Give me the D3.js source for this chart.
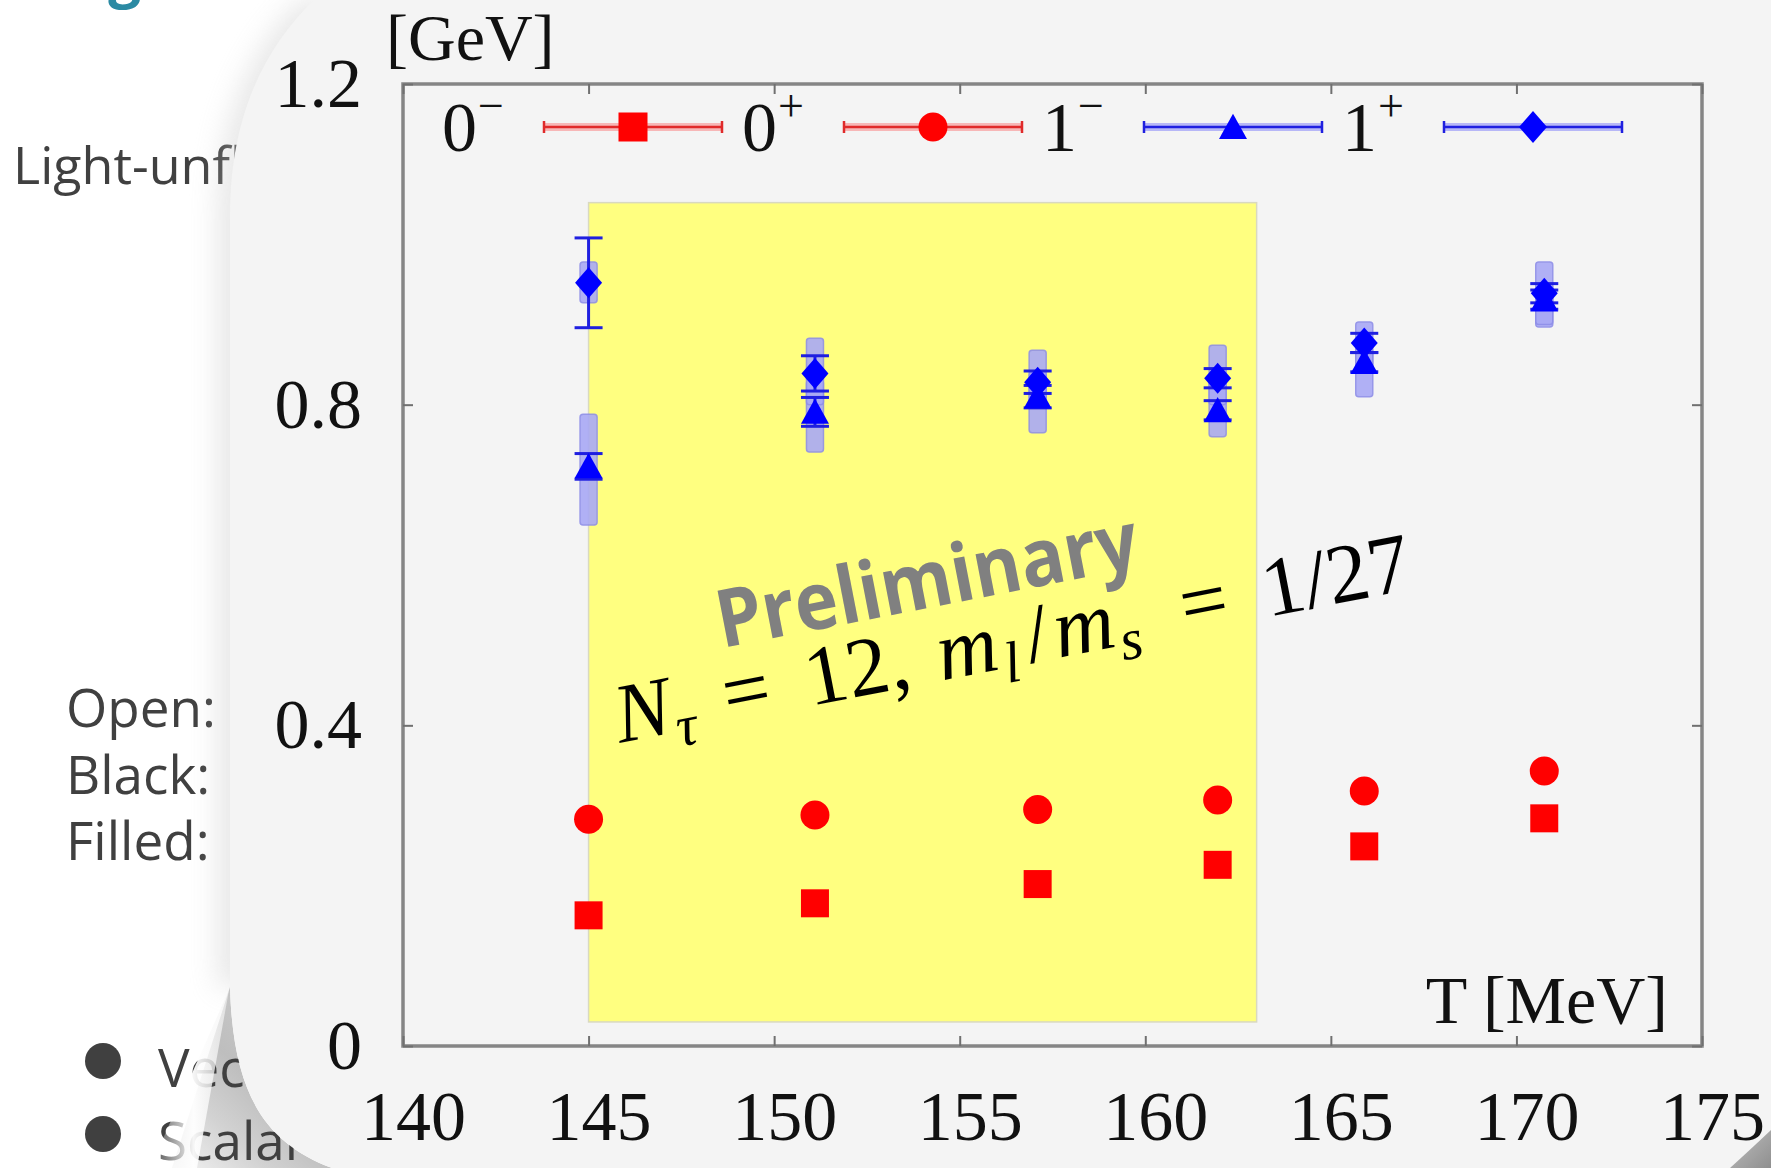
<!DOCTYPE html>
<html>
<head>
<meta charset="utf-8">
<script src="https://cdn.jsdelivr.net/npm/d3@7"></script>
<style>
body { margin: 0; background: #fff; }
svg { display: block; }
</style>
</head>
<body>
<svg width="1771" height="1168"></svg>
<script>
const temps = [145.0, 151.1, 157.1, 161.95, 165.9, 170.75];

const mass0m = [0.163, 0.178, 0.202, 0.226, 0.249, 0.284];
const mass0p = [0.283, 0.288, 0.295, 0.307, 0.318, 0.343];

const mass1m = [0.723, 0.791, 0.810, 0.793, 0.853, 0.931];
const err1m = [0.016, 0.018, 0.014, 0.012, 0.012, 0.012];
const sysLo1m = [0.650, 0.741, 0.765, 0.760, 0.810, 0.897];
const sysHi1m = [0.788, 0.830, 0.840, 0.830, 0.870, 0.950];

const mass1p = [0.952, 0.839, 0.828, 0.833, 0.877, 0.939];
const err1p = [0.056, 0.022, 0.014, 0.012, 0.012, 0.012];
const sysLo1p = [0.927, 0.800, 0.800, 0.800, 0.840, 0.900];
const sysHi1p = [0.978, 0.883, 0.868, 0.874, 0.903, 0.978];

const xTicks = [140, 145, 150, 155, 160, 165, 170, 175];
const yTicks = [0, 0.4, 0.8, 1.2];
const yTickLabels = ["0", "0.4", "0.8", "1.2"];

const legendBase = ["0", "0", "1", "1"];
const legendSup = ["\u2212", "+", "\u2212", "+"];
const legendColors = ["#ff0000", "#ff0000", "#0000ff", "#0000ff"];

const highlightT = [145, 163];
const highlightM = [0.030, 1.052];

const bulletTexts = ["Vector mesons", "Scalar mesons"];
const sideTexts = ["Open:", "Black:", "Filled:"];

const serif = "'Liberation Serif', 'Times New Roman', serif";
const sans = "'Open Sans', 'Noto Sans', sans-serif";

const svg = d3.select("svg");
const defs = svg.append("defs");

const x = d3.scaleLinear().domain([140, 175]).range([403, 1702]);
const y = d3.scaleLinear().domain([0, 1.2]).range([1046, 84]);

// marker shapes
const shapeSquare = { draw(ctx, r) { ctx.rect(-r, -r, 2 * r, 2 * r); } };
const shapeCircle = { draw(ctx, r) { ctx.moveTo(r, 0); ctx.arc(0, 0, r, 0, 2 * Math.PI); } };
const shapeTriangle = { draw(ctx, r) { ctx.moveTo(0, -r * 0.95); ctx.lineTo(r, r * 0.85); ctx.lineTo(-r, r * 0.85); ctx.closePath(); } };
const shapeDiamond = { draw(ctx, r) { ctx.moveTo(0, -r * 1.15); ctx.lineTo(r, 0); ctx.lineTo(0, r * 1.15); ctx.lineTo(-r, 0); ctx.closePath(); } };
const legendShapes = [shapeSquare, shapeCircle, shapeTriangle, shapeDiamond];

// ---------- slide behind ----------
svg.append("rect").attr("width", 1771).attr("height", 1168).attr("fill", "#ffffff");

svg.append("text")
    .attr("x", 141).attr("y", -4)
    .attr("text-anchor", "end")
    .attr("font-family", sans).attr("font-weight", 700).attr("font-size", 58)
    .attr("fill", "#2b8aa3")
    .text("Screening");

const flapGrad = defs.append("linearGradient").attr("id", "flapGrad")
    .attr("gradientUnits", "userSpaceOnUse")
    .attr("x1", 176).attr("y1", 1168).attr("x2", 300).attr("y2", 1040);
flapGrad.append("stop").attr("offset", "0%").attr("stop-color", "#f2f2f2");
flapGrad.append("stop").attr("offset", "35%").attr("stop-color", "#d2d2d2");
flapGrad.append("stop").attr("offset", "65%").attr("stop-color", "#bebebe");
flapGrad.append("stop").attr("offset", "100%").attr("stop-color", "#c8c8c8");

svg.append("path")
    .attr("d", "M230,987 C233,1090 262,1142 332,1168 L172,1168 Z")
    .attr("fill", "url(#flapGrad)");

svg.append("text")
    .attr("x", 13).attr("y", 184)
    .attr("font-family", sans).attr("font-size", 52).attr("fill", "#404040")
    .text("Light-unflavored mesons");

svg.selectAll(".side")
    .data(sideTexts)
    .enter().append("text")
    .attr("class", "side")
    .attr("x", 66)
    .attr("y", (d, i) => 727 + i * 66.5)
    .attr("font-family", sans).attr("font-size", 53).attr("fill", "#404040")
    .text(d => d);

svg.selectAll(".bullet")
    .data(bulletTexts)
    .enter().append("circle")
    .attr("class", "bullet")
    .attr("cx", 103)
    .attr("cy", (d, i) => 1061 + i * 73)
    .attr("r", 18)
    .attr("fill", "#404040");

svg.selectAll(".btext")
    .data(bulletTexts)
    .enter().append("text")
    .attr("class", "btext")
    .attr("x", 158)
    .attr("y", (d, i) => 1087 + i * 73)
    .attr("font-family", sans).attr("font-size", 53).attr("fill", "#404040")
    .text(d => d);

// light band on the curl's edge
const bandGrad = defs.append("linearGradient").attr("id", "bandGrad")
    .attr("x1", 0).attr("x2", 1).attr("y1", 0).attr("y2", 0);
bandGrad.append("stop").attr("offset", "0%").attr("stop-color", "#ffffff").attr("stop-opacity", 0);
bandGrad.append("stop").attr("offset", "55%").attr("stop-color", "#ffffff").attr("stop-opacity", 0.95);
bandGrad.append("stop").attr("offset", "100%").attr("stop-color", "#f4f4f4").attr("stop-opacity", 0.6);

svg.append("path")
    .attr("d", "M229,990 L197,1168 L150,1168 Z")
    .attr("fill", "url(#bandGrad)");

// ---------- curled page ----------
const cornerGrad = defs.append("linearGradient").attr("id", "cornerGrad")
    .attr("x1", 1).attr("x2", 0).attr("y1", 1).attr("y2", 0);
cornerGrad.append("stop").attr("offset", "0%").attr("stop-color", "#8f8f8f");
cornerGrad.append("stop").attr("offset", "100%").attr("stop-color", "#d6d6d6");

svg.append("path")
    .attr("d", "M1771,1110 L1771,1168 L1712,1168 Z")
    .attr("fill", "url(#cornerGrad)");

const blur = defs.append("filter").attr("id", "pageShadow")
    .attr("x", "-50%").attr("y", "-10%").attr("width", "200%").attr("height", "120%");
blur.append("feGaussianBlur").attr("stdDeviation", 14);

svg.append("path")
    .attr("d", "M314,0 C262,50 230,120 230,215 L230,987 L420,987 L420,0 Z")
    .attr("transform", "translate(-12,0)")
    .attr("fill", "#c4c4c4")
    .attr("opacity", 0.4)
    .attr("filter", "url(#pageShadow)");

svg.append("path")
    .attr("d", "M314,0 L1771,0 L1771,1130 Q1752,1148 1730,1168 L332,1168 " +
        "C262,1142 233,1090 230,987 L230,215 C230,120 262,50 314,0 Z")
    .attr("fill", "#f4f4f4");

// ---------- chart ----------
const chart = svg.append("g");

chart.append("rect")
    .attr("x", x(highlightT[0]))
    .attr("y", y(highlightM[1]))
    .attr("width", x(highlightT[1]) - x(highlightT[0]))
    .attr("height", y(highlightM[0]) - y(highlightM[1]))
    .attr("fill", "#ffff80")
    .attr("stroke", "#d9d9c0")
    .attr("stroke-width", 1.5);

const vectorSets = [
    { vals: mass1m, err: err1m, lo: sysLo1m, hi: sysHi1m, shape: shapeTriangle, r: 14 },
    { vals: mass1p, err: err1p, lo: sysLo1p, hi: sysHi1p, shape: shapeDiamond, r: 13.5 }
];

vectorSets.forEach(s => {
    chart.selectAll(null)
        .data(temps)
        .enter().append("rect")
        .attr("x", d => x(d) - 8.5)
        .attr("y", (d, i) => y(s.hi[i]))
        .attr("width", 17)
        .attr("height", (d, i) => y(s.lo[i]) - y(s.hi[i]))
        .attr("rx", 3)
        .attr("fill", "#a9a9f6")
        .attr("stroke", "#8e8ee8")
        .attr("stroke-width", 1.5)
        .attr("opacity", 0.9);
});

vectorSets.forEach(s => {
    const bars = chart.selectAll(null)
        .data(temps)
        .enter().append("g")
        .attr("stroke", "#1f1fe0")
        .attr("stroke-width", 3);
    bars.append("line")
        .attr("x1", d => x(d)).attr("x2", d => x(d))
        .attr("y1", (d, i) => y(s.vals[i] - s.err[i]))
        .attr("y2", (d, i) => y(s.vals[i] + s.err[i]));
    bars.append("line")
        .attr("x1", d => x(d) - 14).attr("x2", d => x(d) + 14)
        .attr("y1", (d, i) => y(s.vals[i] - s.err[i]))
        .attr("y2", (d, i) => y(s.vals[i] - s.err[i]));
    bars.append("line")
        .attr("x1", d => x(d) - 14).attr("x2", d => x(d) + 14)
        .attr("y1", (d, i) => y(s.vals[i] + s.err[i]))
        .attr("y2", (d, i) => y(s.vals[i] + s.err[i]));
});

vectorSets.forEach(s => {
    chart.selectAll(null)
        .data(temps)
        .enter().append("path")
        .attr("d", d3.symbol().type(s.shape).size(s.r))
        .attr("transform", (d, i) => `translate(${x(d)},${y(s.vals[i])})`)
        .attr("fill", "#0000ff");
});

chart.selectAll(null)
    .data(temps)
    .enter().append("path")
    .attr("d", d3.symbol().type(shapeSquare).size(14))
    .attr("transform", (d, i) => `translate(${x(d)},${y(mass0m[i])})`)
    .attr("fill", "#ff0000");

chart.selectAll(null)
    .data(temps)
    .enter().append("path")
    .attr("d", d3.symbol().type(shapeCircle).size(14.5))
    .attr("transform", (d, i) => `translate(${x(d)},${y(mass0p[i])})`)
    .attr("fill", "#ff0000");

// watermark and parameters
chart.append("text")
    .attr("transform", "translate(722,648) rotate(-11)")
    .attr("font-family", sans).attr("font-weight", 700).attr("font-size", 80)
    .attr("fill", "#808080")
    .attr("textLength", 428).attr("lengthAdjust", "spacingAndGlyphs")
    .text("Preliminary");

const formula = chart.append("text")
    .attr("transform", "translate(620,743) rotate(-11)")
    .attr("font-family", serif).attr("font-size", 84)
    .attr("fill", "#000");
const formulaParts = [
    { t: "N", at: 0, sub: false, it: true },
    { t: "\u03c4", at: 58, sub: true, it: true },
    { t: "=", at: 110, sub: false, it: false },
    { t: "12,", at: 194, sub: false, it: false },
    { t: "m", at: 328, sub: false, it: true },
    { t: "l", at: 392, sub: true, it: true },
    { t: "/", at: 418, sub: false, it: false },
    { t: "m", at: 447, sub: false, it: true },
    { t: "s", at: 510, sub: true, it: true },
    { t: "=", at: 576, sub: false, it: false },
    { t: "1/27", at: 660, sub: false, it: false }
];
formula.selectAll("tspan")
    .data(formulaParts)
    .enter().append("tspan")
    .attr("x", d => d.at)
    .attr("y", d => d.sub ? 15 : 0)
    .attr("font-size", d => d.sub ? 58 : 84)
    .attr("font-style", d => d.it ? "italic" : "normal")
    .text(d => d.t);

// frame and axes
chart.append("rect")
    .attr("x", x(140)).attr("y", y(1.2))
    .attr("width", x(175) - x(140)).attr("height", y(0) - y(1.2))
    .attr("fill", "none")
    .attr("stroke", "#858585")
    .attr("stroke-width", 3.5);

const styleAxis = g => {
    g.select(".domain").remove();
    g.selectAll(".tick line").attr("stroke", "#707070").attr("stroke-width", 2);
    g.selectAll(".tick text")
        .attr("font-family", serif).attr("font-size", 70).attr("fill", "#111");
};

chart.append("g")
    .attr("transform", `translate(0,${y(0)})`)
    .call(d3.axisBottom(x).tickValues(xTicks).tickFormat(d3.format("d"))
        .tickSize(-10).tickSizeOuter(0).tickPadding(44))
    .call(styleAxis)
    .call(g => g.selectAll(".tick text").attr("dx", 10));

chart.append("g")
    .attr("transform", `translate(0,${y(1.2)})`)
    .call(d3.axisTop(x).tickValues(xTicks).tickFormat("").tickSize(-10).tickSizeOuter(0))
    .call(styleAxis);

chart.append("g")
    .attr("transform", `translate(${x(140)},0)`)
    .call(d3.axisLeft(y).tickValues(yTicks).tickFormat((d, i) => yTickLabels[i])
        .tickSize(-10).tickSizeOuter(0).tickPadding(41))
    .call(styleAxis);

chart.append("g")
    .attr("transform", `translate(${x(175)},0)`)
    .call(d3.axisRight(y).tickValues(yTicks).tickFormat("").tickSize(-10).tickSizeOuter(0))
    .call(styleAxis);

chart.append("text")
    .attr("x", 386).attr("y", 60)
    .attr("font-family", serif).attr("font-size", 66).attr("fill", "#111")
    .text("[GeV]");

chart.append("text")
    .attr("x", 1668).attr("y", 1023)
    .attr("text-anchor", "end")
    .attr("font-family", serif).attr("font-size", 68).attr("fill", "#111")
    .text("T [MeV]");

// legend
const legend = chart.selectAll(".legend")
    .data(legendBase)
    .enter().append("g")
    .attr("class", "legend")
    .attr("transform", (d, i) => `translate(${442 + i * 300},127)`);

legend.append("text")
    .attr("x", 0).attr("y", 24)
    .attr("font-family", serif).attr("font-size", 70).attr("fill", "#111")
    .text(d => d);

legend.append("text")
    .attr("x", 36).attr("y", -6)
    .attr("font-family", serif).attr("font-size", 46).attr("fill", "#111")
    .text((d, i) => legendSup[i]);

legend.append("rect")
    .attr("x", 102).attr("y", -4).attr("width", 178).attr("height", 8)
    .attr("fill", (d, i) => legendColors[i]).attr("opacity", 0.25);

legend.append("path")
    .attr("d", "M102,0 H280 M102,-6 V6 M280,-6 V6")
    .attr("stroke", (d, i) => legendColors[i] === "#ff0000" ? "#e02a2a" : "#1f1fe0")
    .attr("stroke-width", 2.5)
    .attr("fill", "none");

legend.append("path")
    .attr("d", (d, i) => d3.symbol().type(legendShapes[i]).size(i < 2 ? 14.5 : 14)())
    .attr("transform", "translate(191,0)")
    .attr("fill", (d, i) => legendColors[i]);
</script>
</body>
</html>
